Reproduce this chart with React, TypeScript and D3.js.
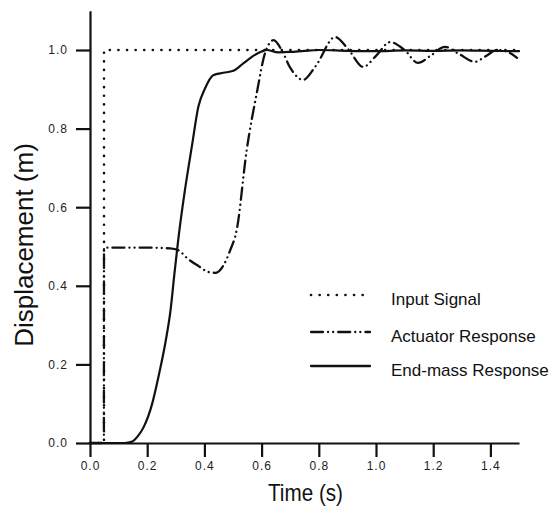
import React, { useEffect, useRef } from 'react';
import * as d3 from 'd3';

// time (s) / displacement (m)
const inputT = [0, 0.049, 0.049, 1.5];
const inputV = [0, 0, 1.0, 1.0];

const actuatorT = [0, 0.0485, 0.049, 0.1, 0.2, 0.28, 0.31, 0.34, 0.38, 0.415, 0.44, 0.465, 0.49, 0.513, 0.548, 0.583, 0.612, 0.642, 0.67, 0.7, 0.745, 0.79, 0.857, 0.905, 0.955, 1.0, 1.049, 1.1, 1.147, 1.19, 1.241, 1.29, 1.346, 1.385, 1.423, 1.46, 1.493];
const actuatorV = [0, 0, 0.497, 0.497, 0.497, 0.495, 0.49, 0.47, 0.45, 0.435, 0.433, 0.45, 0.49, 0.542, 0.746, 0.89, 0.992, 1.025, 1.0, 0.955, 0.924, 0.96, 1.033, 1.0, 0.957, 0.985, 1.02, 1.0, 0.967, 0.985, 1.008, 0.99, 0.97, 0.985, 1.0, 0.995, 0.98];

const endMassT = [0, 0.12, 0.148, 0.168, 0.188, 0.217, 0.241, 0.264, 0.282, 0.295, 0.309, 0.332, 0.356, 0.379, 0.402, 0.431, 0.466, 0.501, 0.536, 0.571, 0.6, 0.618, 0.658, 0.7, 0.75, 0.8, 0.9, 1.0, 1.1, 1.2, 1.3, 1.4, 1.5];
const endMassV = [0, 0, 0.004, 0.018, 0.041, 0.099, 0.174, 0.257, 0.34, 0.43, 0.52, 0.644, 0.754, 0.856, 0.902, 0.936, 0.942, 0.947, 0.966, 0.985, 0.996, 1.0, 0.994, 0.995, 0.998, 1.0, 0.998, 0.997, 0.999, 0.998, 0.999, 0.998, 0.997];

const xTicks = [0, 0.2, 0.4, 0.6, 0.8, 1.0, 1.2, 1.4];
const yTicks = [0, 0.2, 0.4, 0.6, 0.8, 1.0];
const legendLabels = ['Input Signal', 'Actuator Response', 'End-mass Response'];

const FONT = '"Liberation Sans", Arial, Helvetica, sans-serif';
const DOTTED = '0.1 8.5';
const DASHDOT = '12 5 0.1 5 0.1 5';

const App = () => {
  const ref = useRef<SVGSVGElement>(null);

  useEffect(() => {
    const svg = d3.select(ref.current);
    svg.selectAll('*').remove();

    const x = d3.scaleLinear().domain([0, 1.5]).range([90, 519]);
    const y = d3.scaleLinear().domain([0, 1.1]).range([443, 10.7]);

    const line = d3
      .line<[number, number]>()
      .x((d) => x(d[0]))
      .y((d) => y(d[1]));

    const zip = (t: number[], v: number[]) => t.map((d, i) => [d, v[i]] as [number, number]);

    // axes
    const xAxis = svg
      .append('g')
      .attr('transform', `translate(0,${y(0)})`)
      .call(d3.axisBottom(x).tickValues(xTicks).tickSize(14).tickSizeOuter(0).tickPadding(4).tickFormat(d3.format('.1f')));
    const yAxis = svg
      .append('g')
      .attr('transform', `translate(${x(0)},0)`)
      .call(d3.axisLeft(y).tickValues(yTicks).tickSize(14).tickSizeOuter(0).tickPadding(8).tickFormat(d3.format('.1f')));

    [xAxis, yAxis].forEach((g) => {
      g.select('.domain').attr('stroke', '#111').attr('stroke-width', 2.2);
      g.selectAll('.tick line').attr('stroke', '#111').attr('stroke-width', 2.2);
      g.selectAll('.tick text')
        .attr('fill', '#222')
        .attr('font-family', FONT)
        .attr('font-size', 12)
        .attr('letter-spacing', 1);
    });

    // series
    const plot = svg.append('g').attr('fill', 'none').attr('stroke', '#111').attr('stroke-linecap', 'round');
    plot
      .append('path')
      .attr('d', line(zip(inputT, inputV)))
      .attr('stroke-width', 2.6)
      .attr('stroke-dasharray', DOTTED);
    plot
      .append('path')
      .attr('d', line.curve(d3.curveMonotoneX)(zip(actuatorT, actuatorV)))
      .attr('stroke-width', 2.3)
      .attr('stroke-dasharray', DASHDOT);
    plot
      .append('path')
      .attr('d', line.curve(d3.curveMonotoneX)(zip(endMassT, endMassV)))
      .attr('stroke-width', 2.2);

    // axis titles
    svg
      .append('text')
      .attr('x', 268)
      .attr('y', 501)
      .attr('font-family', FONT)
      .attr('font-size', 24)
      .attr('textLength', 75)
      .attr('lengthAdjust', 'spacingAndGlyphs')
      .attr('fill', '#111')
      .text('Time (s)');
    svg
      .append('text')
      .attr('transform', 'translate(33,245) rotate(-90)')
      .attr('text-anchor', 'middle')
      .attr('font-family', FONT)
      .attr('font-size', 26)
      .attr('fill', '#111')
      .text('Displacement (m)');

    // legend
    const dashes = [DOTTED, DASHDOT, null];
    const rowY = [295, 332, 366];
    const legend = svg.append('g');
    legendLabels.forEach((label, i) => {
      legend
        .append('line')
        .attr('x1', 311)
        .attr('x2', 370)
        .attr('y1', rowY[i])
        .attr('y2', rowY[i])
        .attr('stroke', '#111')
        .attr('stroke-width', i === 0 ? 2.6 : 2.3)
        .attr('stroke-linecap', 'round')
        .attr('stroke-dasharray', dashes[i]);
      legend
        .append('text')
        .attr('x', 391)
        .attr('y', rowY[i] + 10)
        .attr('font-family', FONT)
        .attr('font-size', 17)
        .attr('fill', '#111')
        .text(label);
    });
  }, []);

  return <svg ref={ref} width={549} height={506} style={{ position: 'absolute', left: 0, top: 0, background: '#fff' }}></svg>;
};

export default App;
